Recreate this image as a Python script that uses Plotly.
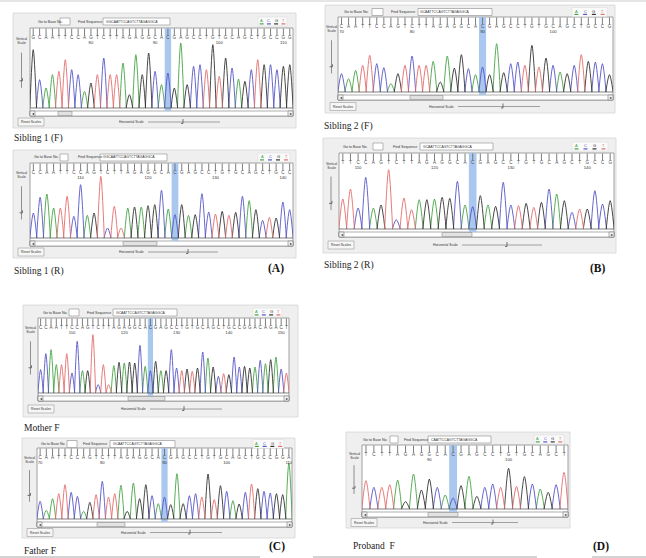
import plotly.graph_objects as go

W, H = 646, 558
UI_FONT = "Liberation Sans"
SERIF = "Liberation Serif"
BASE_COLORS = {"A": "#46a446", "C": "#5656c6", "G": "#333333", "T": "#e36d6d"}

# ── base calls and peak heights ─────────────────────────────────────────────
sib1_f_bases = "GCAATTCCAGTCTTAGAGGCA" "C" "GAGCCTGTGCAGCTGCCGG"
sib1_f_heights = [175, 85, 60, 100, 110, 145, 115, 100, 50, 75,
                  100, 150, 100, 100, 135, 40, 160, 100, 165, 110,
                  70, 105, 60, 195, 70, 125, 130, 115, 190, 95,
                  150, 120, 87, 80, 115, 145, 130, 130, 115, 125, 130]
sib1_f_first = 71
sib1_f_variant = 21
sib1_f_query = "GGCAATTCCAGTCTTAGAGGCA"

sib1_r_bases = "CCAATTCCAGTCTTAGAGGCA" "C" "GAGCCTGTGCAGCTGCC"
sib1_r_heights = [75, 122, 132, 90, 90, 125, 65, 160, 68, 75,
                  185, 30, 95, 30, 90, 93, 93, 97, 100, 143,
                  87, 70, 100, 68, 70, 133, 78, 72, 80, 68,
                  77, 125, 112, 85, 53, 62, 60, 108, 85]
sib1_r_first = 103
sib1_r_variant = 21
sib1_r_query = "GGCAATTCCAGTCTTAGAGGCA"

sib2_f_bases = "CAATTCCAGTCTTAGAGGCA" "C" "GAGCCTGTGCAGCTGCCG"
sib2_f_heights = [55, 40, 65, 80, 110, 85, 73, 25, 55, 80,
                  108, 80, 80, 92, 30, 108, 72, 112, 70, 52,
                  75, 52, 145, 58, 85, 90, 80, 140, 75, 102,
                  80, 60, 55, 80, 112, 92, 90, 85, 52]
sib2_f_first = 70
sib2_f_variant = 20
sib2_f_query = "GCAATTCCAGTCTTAGAGGCA"

sib2_r_bases = "TTCCAGTCTTAGAGGCA" "C" "GAGCCTGTGCAGCTGCCG"
sib2_r_heights = [90, 120, 63, 155, 63, 72, 178, 28, 93, 58,
                  88, 88, 90, 95, 92, 143, 72, 67, 100, 72,
                  68, 140, 72, 70, 77, 65, 80, 120, 105, 85,
                  50, 60, 60, 115, 75, 85]
sib2_r_first = 108
sib2_r_variant = 17
sib2_r_query = "GCAATTCCAGTCTTAGAGGCA"

mother_bases = "CCAATTCCAGTCTTAGAGGCA" "C" "GAGCCTGTGCAGCTGCC" "GGACAGACT"
mother_heights = [70, 118, 130, 85, 85, 118, 60, 155, 67, 67,
                  175, 25, 85, 25, 82, 92, 90, 93, 90, 143,
                  80, 67, 95, 67, 67, 130, 75, 67, 72, 65,
                  75, 123, 105, 78, 50, 58, 55, 108, 78, 80,
                  75, 78, 98, 88, 100, 108, 72, 60]
mother_first = 104
mother_variant = 21
mother_query = "GCAATTCCAGTCTTAGAGGCA"

father_bases = "CAATTCCAGTCTTAGAGGCA" "C" "GAGCCTGTGCAGCTGCCGGA"
father_heights = [53, 26, 61, 76, 103, 80, 68, 23, 50, 73,
                  113, 66, 76, 101, 23, 108, 61, 103, 70, 46,
                  66, 43, 136, 46, 70, 76, 66, 135, 58, 100,
                  83, 55, 45, 80, 105, 91, 83, 78, 76, 73, 168]
father_first = 70
father_variant = 20
father_query = "GCAATTCCAGTCTTAGAGGCA"

proband_bases = "TCTTAGAGGCA" "C" "GAGCCTGTGCAGCT"
proband_heights = [85, 65, 65, 73, 87, 22, 105, 57, 90, 65,
                   42, 33, 70, 98, 38, 65, 75, 65, 122, 68,
                   97, 75, 60, 50, 73, 110]
proband_first = 82
proband_variant = 11
proband_query = "CAATTCCAGTCTTAGAGGCA"

# ── where each software window sits on the page (pixels) ─────────────────────
# tool = (go-to text x, go-to box x0, x1, find text x, sequence box x0, x1, icon box x0, x1)
PANELS = [
    dict(bases=sib1_f_bases, heights=sib1_f_heights, first=sib1_f_first, variant=sib1_f_variant,
         query=sib1_f_query, frame=(13, 13, 296, 128), win=(30, 28, 293, 116), thumb=(58, 72),
         hslide=(148, 220, 183), tool=(37, 60, 70, 77, 103, 170, 258, 287)),
    dict(bases=sib1_r_bases, heights=sib1_r_heights, first=sib1_r_first, variant=sib1_r_variant,
         query=sib1_r_query, frame=(13, 150, 296, 258), win=(30, 163, 293, 246), thumb=(123, 157),
         hslide=(148, 218, 188), tool=(33, 60, 68, 77, 100, 167, 258, 290)),
    dict(bases=sib2_f_bases, heights=sib2_f_heights, first=sib2_f_first, variant=sib2_f_variant,
         query=sib2_f_query, frame=(325, 5, 615, 113), win=(338, 17, 613, 100), thumb=(410, 443),
         hslide=(458, 540, 503), tool=(343, 372, 383, 390, 418, 492, 572, 607)),
    dict(bases=sib2_r_bases, heights=sib2_r_heights, first=sib2_r_first, variant=sib2_r_variant,
         query=sib2_r_query, frame=(323, 138, 616, 253), win=(339, 153, 614, 237), thumb=(442, 472),
         hslide=(462, 542, 507), tool=(342, 373, 383, 392, 420, 493, 572, 608)),
    dict(bases=mother_bases, heights=mother_heights, first=mother_first, variant=mother_variant,
         query=mother_query, frame=(23, 305, 298, 417), win=(38, 318, 289, 401), thumb=(128, 165),
         hslide=(150, 222, 184), tool=(42, 69, 79, 86, 113, 177, 253, 282)),
    dict(bases=father_bases, heights=father_heights, first=father_first, variant=father_variant,
         query=father_query, frame=(22, 438, 295, 538), win=(37, 448, 292, 527), thumb=(97, 125),
         hslide=(150, 222, 190), tool=(40, 67, 77, 82, 110, 175, 253, 284)),
    dict(bases=proband_bases, heights=proband_heights, first=proband_first, variant=proband_variant,
         query=proband_query, frame=(346, 432, 570, 528), win=(362, 445, 568, 517), thumb=(428, 458),
         hslide=(452, 518, 493), tool=(362, 390, 398, 403, 428, 491, 534, 564)),
]

CAPTIONS = [
    ("Sibling 1 (F)", 13, 139, False), ("Sibling 1 (R)", 13, 271, False), ("(A)", 267, 268, True),
    ("Sibling 2 (F)", 323, 127, False), ("Sibling 2 (R)", 323, 266, False), ("(B)", 589, 268, True),
    ("Mother F", 23, 428, False), ("Father F", 23, 551, False), ("(C)", 268, 546, True),
    ("Proband\u00a0 F", 352, 546, False), ("(D)", 592, 546, True),
]


def px(x):
    return x / W


def py(y):
    return 1 - y / H


shapes, annotations = [], []


def rect(x0, y0, x1, y1, fill, line="rgba(0,0,0,0)", lw=0.7):
    shapes.append(dict(type="rect", xref="paper", yref="paper", x0=px(x0), x1=px(x1),
                       y0=py(y1), y1=py(y0), fillcolor=fill,
                       line=dict(color=line, width=lw), layer="below"))


def seg(x0, y0, x1, y1, color, lw=0.7):
    shapes.append(dict(type="line", xref="paper", yref="paper", x0=px(x0), x1=px(x1),
                       y0=py(y0), y1=py(y1), line=dict(color=color, width=lw), layer="below"))


def text(x, y, s, size=3.6, color="#333", anchor="left", family=UI_FONT):
    annotations.append(dict(x=px(x), y=py(y), xref="paper", yref="paper", text=s,
                            showarrow=False, xanchor=anchor, yanchor="middle", borderpad=0,
                            font=dict(size=size, color=color, family=family)))


fig = go.Figure()
layout = {}

# page rules
seg(0, 1, W, 1, "#cccccc", 1)
seg(0, 557, 260, 557, "#a8a8a8", 1)
seg(313, 557, 537, 557, "#a8a8a8", 1)
seg(592, 557, W, 557, "#a8a8a8", 1)

for k, p in enumerate(PANELS, start=1):
    sid = "" if k == 1 else str(k)
    xa, ya = "x" + sid, "y" + sid
    fx0, fy0, fx1, fy1 = p["frame"]
    wx0, wy0, wx1, wy1 = p["win"]
    sb = wy1 - 5  # top of the scroll bar
    wh = wy1 - wy0

    # window chrome
    rect(fx0, fy0, fx1, fy1, "#efefef", "#d6d6d6", 0.8)
    rect(wx0, wy0, wx1, wy1, "white", "#8a8a8a", 0.8)

    # toolbar
    gx, gb0, gb1, fx, sq0, sq1, ix0, ix1 = p["tool"]
    ty = (fy0 + wy0) / 2 + 1
    text(gx, ty, "Go to Base No.")
    rect(gb0, ty - 3.5, gb1, ty + 3.5, "white", "#8a8a8a", 0.6)
    text(fx, ty, "Find Sequence")
    rect(sq0, ty - 3.5, sq1, ty + 3.5, "white", "#8a8a8a", 0.6)
    text(sq0 + 1.5, ty, p["query"], size=3.4)
    rect(ix0, ty - 4.5, ix1, ty + 4.5, "#fafafa", "#dedede", 0.6)
    step = (ix1 - ix0) / 4
    for j, (b, col) in enumerate(BASE_COLORS.items()):
        cx = ix0 + step * (j + 0.5)
        text(cx, ty - 0.8, b, size=4, color=col, anchor="center")
        seg(cx - 2, ty + 2.4, cx + 2, ty + 2.4, col, 1.2)

    # vertical scale
    vx = (fx0 + wx0) / 2
    text(vx, wy0 + 0.15 * wh, "Vertical<br>Scale", size=3.4, anchor="center")
    seg(vx, wy0 + 0.28 * wh, vx, wy0 + 0.68 * wh, "#777", 0.8)
    seg(vx - 2, wy0 + 0.60 * wh, vx + 1, wy0 + 0.60 * wh, "#555", 0.8)
    seg(vx + 1, wy0 + 0.57 * wh, vx + 1, wy0 + 0.60 * wh, "#555", 0.8)

    # scroll bar
    rect(wx0, sb, wx1, wy1, "white", "#7a7a7a", 0.6)
    rect(wx0, sb, wx0 + 5, wy1, "#f2f2f2", "#7a7a7a", 0.6)
    rect(wx1 - 5, sb, wx1, wy1, "#f2f2f2", "#7a7a7a", 0.6)
    text(wx0 + 2.5, sb + 2.5, "\u25c2", size=4, color="#222", anchor="center")
    text(wx1 - 2.5, sb + 2.5, "\u25b8", size=4, color="#222", anchor="center")
    rect(p["thumb"][0], sb + 0.5, p["thumb"][1], wy1 - 0.5, "#e2e2e2", "#8d8d8d", 0.6)

    # bottom row: reset button and horizontal scale
    by = (wy1 + fy1) / 2
    rect(fx0 + 5, by - 4, fx0 + 31, by + 4, "#f6f6f6", "#9a9a9a", 0.6)
    text(fx0 + 18, by, "Reset Scales", size=3.4, anchor="center")
    h0, h1, hk = p["hslide"]
    text(h0 - 3, by, "Horizontal Scale", size=3.4, anchor="right")
    seg(h0, by, h1, by, "#8a8a8a", 0.8)
    seg(hk, by - 3, hk, by + 1.5, "#555", 0.8)
    seg(hk - 2, by + 1.5, hk, by + 1.5, "#555", 0.8)

    # chromatogram axes
    bases, heights = p["bases"], p["heights"]
    n = len(bases)
    top = 3 * (sb - wy0) - 9
    layout["xaxis" + sid] = dict(domain=[px(wx0), px(wx1)], range=[-0.5, n - 0.5],
                                 visible=False, fixedrange=True, anchor=ya)
    layout["yaxis" + sid] = dict(domain=[py(sb), py(wy0)], range=[-9, top],
                                 visible=False, fixedrange=True, anchor=xa)

    # highlighted variant column
    v = p["variant"]
    shapes.append(dict(type="rect", xref=xa, yref=ya + " domain", x0=v - 0.5, x1=v + 0.5,
                       y0=0, y1=1, fillcolor="#a9c7ef", line=dict(width=0), layer="below"))

    # peaks, one trace per dye
    for b, col in BASE_COLORS.items():
        xs, ys = [], []
        for i, (base, h) in enumerate(zip(bases, heights)):
            if base == b:
                xs += [i - 0.52, i, i + 0.52, None]
                ys += [0, h, 0, None]
        fig.add_trace(go.Scatter(x=xs, y=ys, xaxis=xa, yaxis=ya, mode="lines",
                                 line=dict(color=col, width=0.9, shape="spline", smoothing=0.9),
                                 hoverinfo="skip"))
    fig.add_trace(go.Scatter(x=[-0.5, n - 0.5], y=[0, 0], xaxis=xa, yaxis=ya, mode="lines",
                             line=dict(color="#4a4a4a", width=0.7), hoverinfo="skip"))

    # base calls, quality ticks and position numbers
    idx = list(range(n))
    fig.add_trace(go.Scatter(x=idx, y=[top - 12] * n, xaxis=xa, yaxis=ya, mode="markers",
                             marker=dict(symbol="line-ns", size=5,
                                         line=dict(color="#6f6f6f", width=0.9)),
                             hoverinfo="skip"))
    fig.add_trace(go.Scatter(x=idx, y=[top - 30] * n, xaxis=xa, yaxis=ya, mode="text",
                             text=list(bases), textfont=dict(size=4.6, color="#505050", family=UI_FONT),
                             hoverinfo="skip"))
    num_x = [i for i in idx if (p["first"] + i) % 10 == 0]
    fig.add_trace(go.Scatter(x=num_x, y=[top - 45] * len(num_x), xaxis=xa, yaxis=ya, mode="text",
                             text=[str(p["first"] + i) for i in num_x],
                             textfont=dict(size=4.2, color="#333", family=UI_FONT),
                             hoverinfo="skip"))

for s, x, y, bold in CAPTIONS:
    if bold:
        text(x, y, "<b>" + s + "</b>", size=11.5, color="#111", family=SERIF)
    else:
        text(x, y, s, size=9.5, color="#222", family=SERIF)

fig.update_layout(
    width=W, height=H,
    margin=dict(l=0, r=0, t=0, b=0),
    paper_bgcolor="white",
    plot_bgcolor="rgba(0,0,0,0)",
    showlegend=False,
    hovermode=False,
    shapes=shapes,
    annotations=annotations,
    **layout,
)

# the page would otherwise keep the browser's default 8px body margin
fig.write_html("out.html", config={"displayModeBar": False},
               post_script="document.body.style.margin = '0px';")
